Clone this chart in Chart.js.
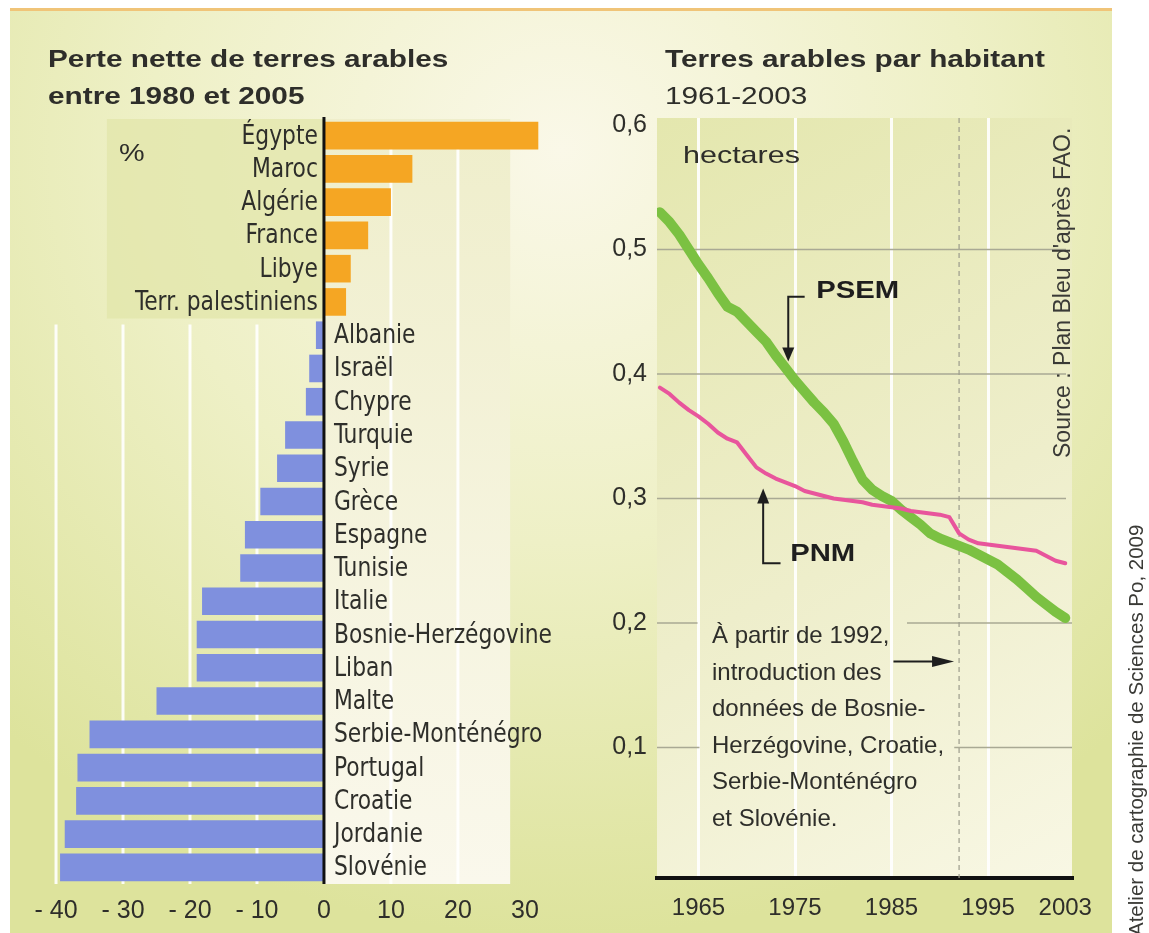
<!DOCTYPE html>
<html lang="fr">
<head>
<meta charset="UTF-8" />
<title>Terres arables</title>
<script src="https://cdn.jsdelivr.net/npm/chart.js"></script>
<style>
  html, body { margin: 0; padding: 0; background: #fff; }
  body {
    width: 1149px; height: 933px; position: relative; overflow: hidden;
    font-family: 'Liberation Sans', Arial, sans-serif; color: #2e2e2a;
  }
  .bg {
    position: absolute; left: 10px; top: 8px; width: 1102px; height: 925px;
    background: radial-gradient(ellipse 75% 85% at 50% 15%, #faf8e8 0%, #eef0c6 50%, #dde39c 100%);
    border-top: 3px solid #f0c478;
  }
  canvas { position: absolute; left: 0; top: 0; }
  .txt { position: absolute; white-space: nowrap; }
  .line { display: block; transform-origin: 0 0; }
  .title { font-size: 24px; line-height: 37px; }
  .title .line { transform: scaleX(1.24); }
  .bold { font-weight: bold; }
  .unit { font-size: 24px; line-height: 24px; transform-origin: 0 0; }
  .note { font-size: 24px; line-height: 36.5px; }
  .rot { position: absolute; white-space: nowrap; transform-origin: 0 0; color: #3a3a36; }
</style>
</head>
<body>
  <div class="bg"></div>
  <canvas id="leftChart" width="1149" height="933"></canvas>
  <canvas id="rightChart" width="1149" height="933"></canvas>

  <div class="txt title" style="left:48px; top:40px;">
    <span class="line bold">Perte nette de terres arables</span>
    <span class="line bold">entre 1980 et 2005</span>
  </div>
  <div class="txt title" style="left:665px; top:40px;">
    <span class="line bold">Terres arables par habitant</span>
    <span class="line">1961-2003</span>
  </div>
  <div class="txt unit" style="left:119px; top:141px; transform:scaleX(1.2);">%</div>
  <div class="txt unit" style="left:683px; top:143px; transform:scaleX(1.27);">hectares</div>

  <div class="txt note" style="left:712px; top:617px;">
    À partir de 1992,<br>introduction des<br>données de Bosnie-<br>Herzégovine, Croatie,<br>Serbie-Monténégro<br>et Slovénie.
  </div>

  <div class="rot" style="left:1049px; top:458px; font-size:23px; line-height:26px; transform:rotate(-90deg);">Source : Plan Bleu d'après FAO.</div>
  <div class="rot" style="left:1124px; top:936px; font-size:20.5px; line-height:24px; transform:rotate(-90deg);">Atelier de cartographie de Sciences Po, 2009</div>

  <script>
    // left chart: net loss of arable land 1980-2005, %
    const countries = ['Égypte', 'Maroc', 'Algérie', 'France', 'Libye', 'Terr. palestiniens',
      'Albanie', 'Israël', 'Chypre', 'Turquie', 'Syrie', 'Grèce', 'Espagne', 'Tunisie', 'Italie',
      'Bosnie-Herzégovine', 'Liban', 'Malte', 'Serbie-Monténégro', 'Portugal', 'Croatie',
      'Jordanie', 'Slovénie'];
    const lossPct = [32, 13.2, 10, 6.6, 4, 3.3,
      -1.2, -2.2, -2.7, -5.8, -7, -9.5, -11.8, -12.5, -18.2,
      -19, -19, -25, -35, -36.8, -37, -38.7, -39.4];
    const pctTicks = [-40, -30, -20, -10, 0, 10, 20, 30];

    // right chart: arable land per inhabitant, hectares
    const years = [1961, 1962, 1963, 1964, 1965, 1966, 1967, 1968, 1969, 1970,
      1971, 1972, 1973, 1974, 1975, 1976, 1977, 1978, 1979, 1980,
      1981, 1982, 1983, 1984, 1985, 1986, 1987, 1988, 1989, 1990,
      1991, 1992, 1993, 1994, 1995, 1996, 1997, 1998, 1999, 2000,
      2001, 2002, 2003];
    const psem = [0.530, 0.522, 0.512, 0.500, 0.488, 0.477, 0.465, 0.454, 0.450, 0.442,
      0.434, 0.426, 0.415, 0.405, 0.395, 0.386, 0.377, 0.369, 0.360, 0.346,
      0.330, 0.315, 0.307, 0.302, 0.298, 0.291, 0.285, 0.279, 0.272, 0.268,
      0.265, 0.262, 0.259, 0.255, 0.251, 0.247, 0.241, 0.235, 0.228, 0.221,
      0.215, 0.209, 0.204];
    const pnm = [0.389, 0.384, 0.377, 0.371, 0.366, 0.360, 0.353, 0.348, 0.345, 0.335,
      0.325, 0.320, 0.316, 0.313, 0.310, 0.306, 0.304, 0.302, 0.300, 0.299,
      0.298, 0.297, 0.295, 0.294, 0.293, 0.292, 0.290, 0.289, 0.288, 0.287,
      0.285, 0.272, 0.267, 0.264, 0.263, 0.262, 0.261, 0.260, 0.259, 0.258,
      0.254, 0.250, 0.248];
    const yearTicks = [1965, 1975, 1985, 1995, 2003];
    const haTicks = [0.1, 0.2, 0.3, 0.4, 0.5, 0.6];
    const bosniaYear = 1992;

    const FONT = '"Liberation Sans", Arial, sans-serif';
    const NARROW = '"Liberation Sans Narrow", "DejaVu Sans Condensed", "Liberation Sans", sans-serif';
    Chart.defaults.color = '#2e2e2a';
    Chart.defaults.font.family = FONT;

    const ORANGE = '#f5a623';
    const BLUE = '#7f90de';

    const leftDeco = {
      id: 'leftDeco',
      beforeDraw(chart) {
        const { ctx, chartArea: a, scales: { x, y } } = chart;
        const x0 = x.getPixelForValue(0);
        const splitY = (y.getPixelForValue(5) + y.getPixelForValue(6)) / 2;
        ctx.save();
        // label box behind the gains
        ctx.fillStyle = 'rgba(226,230,170,0.75)';
        ctx.fillRect(x.getPixelForValue(-32.4), a.top, x0 - x.getPixelForValue(-32.4), splitY - a.top);
        // light panel right of zero
        const g = ctx.createLinearGradient(0, a.top, 0, a.bottom);
        g.addColorStop(0, '#efeecb');
        g.addColorStop(1, '#faf8ec');
        ctx.fillStyle = g;
        ctx.fillRect(x0, a.top, x.getPixelForValue(27.8) - x0, a.bottom - a.top);
        ctx.restore();
      },
      beforeDatasetsDraw(chart) {
        const { ctx, chartArea: a, scales: { x, y } } = chart;
        const splitY = (y.getPixelForValue(5) + y.getPixelForValue(6)) / 2;
        ctx.save();
        ctx.strokeStyle = 'rgba(255,255,255,0.9)';
        ctx.lineWidth = 3;
        pctTicks.forEach(v => {
          if (v === 0 || v === 30) return;
          const px = x.getPixelForValue(v);
          ctx.beginPath();
          ctx.moveTo(px, v < 0 ? splitY + 6 : a.top + 30);
          ctx.lineTo(px, a.bottom);
          ctx.stroke();
        });
        ctx.restore();
      },
      afterDatasetsDraw(chart) {
        const { ctx, chartArea: a, scales: { x, y } } = chart;
        const x0 = x.getPixelForValue(0);
        ctx.save();
        ctx.strokeStyle = '#111';
        ctx.lineWidth = 3;
        ctx.beginPath();
        ctx.moveTo(x0, a.top - 2);
        ctx.lineTo(x0, a.bottom);
        ctx.stroke();
        // condensed labels, squeezed to the width seen in the print
        ctx.font = '27px ' + NARROW;
        const sx = 218 / ctx.measureText('Bosnie-Herzégovine').width;
        ctx.fillStyle = '#2e2e2a';
        ctx.textBaseline = 'middle';
        countries.forEach((c, i) => {
          const py = y.getPixelForValue(i) + 1;
          const pos = lossPct[i] > 0;
          ctx.save();
          ctx.translate(pos ? x0 - 6 : x0 + 10, py);
          ctx.scale(sx, 1);
          ctx.textAlign = pos ? 'right' : 'left';
          ctx.fillText(c, 0, 0);
          ctx.restore();
        });
        ctx.restore();
      }
    };

    new Chart(document.getElementById('leftChart'), {
      type: 'bar',
      data: {
        labels: countries,
        datasets: [{
          data: lossPct,
          backgroundColor: lossPct.map(v => v > 0 ? ORANGE : BLUE),
          borderWidth: 0,
          barPercentage: 0.83,
          categoryPercentage: 1
        }]
      },
      options: {
        indexAxis: 'y',
        responsive: false,
        animation: false,
        layout: { padding: { left: 50, right: 604, top: 119, bottom: 0 } },
        plugins: { legend: { display: false }, tooltip: { enabled: false } },
        scales: {
          x: {
            type: 'linear',
            min: -40.9,
            max: 33,
            afterBuildTicks: s => { s.ticks = pctTicks.map(v => ({ value: v })); },
            afterFit: s => { s.height = 49; },
            ticks: {
              font: { size: 25 },
              padding: 12,
              callback: v => v < 0 ? '- ' + (-v) : String(v)
            },
            grid: { display: false, drawTicks: false },
            border: { display: false }
          },
          y: { display: false }
        }
      },
      plugins: [leftDeco]
    });

    function arrowHead(ctx, tx, ty, dir, len, half) {
      ctx.beginPath();
      if (dir === 'down') { ctx.moveTo(tx, ty); ctx.lineTo(tx - half, ty - len); ctx.lineTo(tx + half, ty - len); }
      if (dir === 'up') { ctx.moveTo(tx, ty); ctx.lineTo(tx - half, ty + len); ctx.lineTo(tx + half, ty + len); }
      if (dir === 'right') { ctx.moveTo(tx, ty); ctx.lineTo(tx - len, ty - half); ctx.lineTo(tx - len, ty + half); }
      ctx.closePath();
      ctx.fill();
    }

    function boldLabel(ctx, text, px, py) {
      ctx.save();
      ctx.translate(px, py);
      ctx.scale(1.22, 1);
      ctx.font = 'bold 24px ' + FONT;
      ctx.textAlign = 'left';
      ctx.textBaseline = 'middle';
      ctx.fillText(text, 0, 0);
      ctx.restore();
    }

    const rightDeco = {
      id: 'rightDeco',
      beforeDraw(chart) {
        const { ctx, chartArea: a } = chart;
        const g = ctx.createLinearGradient(a.left, a.top, a.right, a.bottom);
        g.addColorStop(0, '#e4e7ae');
        g.addColorStop(0.55, '#eeeecb');
        g.addColorStop(1, '#f8f7e4');
        ctx.save();
        ctx.fillStyle = g;
        ctx.fillRect(a.left, a.top, a.right - a.left, a.bottom - a.top);
        ctx.restore();
      },
      beforeDatasetsDraw(chart) {
        const { ctx, chartArea: a, scales: { x, y } } = chart;
        const gaps = { '0.2': [1964.9, 1986.6], '0.1': [1965.1, 1991.5] };
        ctx.save();
        ctx.strokeStyle = '#a9a994';
        ctx.lineWidth = 1.5;
        haTicks.forEach(v => {
          if (v === 0.6) return;
          const py = y.getPixelForValue(v);
          const gap = gaps[String(v)];
          ctx.beginPath();
          if (gap) {
            ctx.moveTo(a.left, py); ctx.lineTo(x.getPixelForValue(gap[0]), py);
            ctx.moveTo(x.getPixelForValue(gap[1]), py); ctx.lineTo(a.right, py);
          } else {
            ctx.moveTo(a.left, py); ctx.lineTo(a.right - 6, py);
          }
          ctx.stroke();
        });
        // 1992 dashed marker
        const bx = x.getPixelForValue(bosniaYear);
        ctx.strokeStyle = '#9c9c8c';
        ctx.lineWidth = 1.2;
        ctx.setLineDash([5, 4]);
        ctx.beginPath();
        ctx.moveTo(bx, a.top);
        ctx.lineTo(bx, a.bottom);
        ctx.stroke();
        ctx.restore();
      },
      afterDatasetsDraw(chart) {
        const { ctx, scales: { x, y } } = chart;
        ctx.save();
        ctx.strokeStyle = '#1e1e1e';
        ctx.fillStyle = '#1e1e1e';
        ctx.lineWidth = 2;

        // PSEM bracket
        let vx = x.getPixelForValue(1974.3);
        let top = y.getPixelForValue(0.462);
        let tip = y.getPixelForValue(0.41);
        ctx.beginPath();
        ctx.moveTo(x.getPixelForValue(1976.0), top);
        ctx.lineTo(vx, top);
        ctx.lineTo(vx, tip - 10);
        ctx.stroke();
        arrowHead(ctx, vx, tip, 'down', 14, 6);
        boldLabel(ctx, 'PSEM', x.getPixelForValue(1977.2), y.getPixelForValue(0.466));

        // PNM bracket
        vx = x.getPixelForValue(1971.7);
        tip = y.getPixelForValue(0.308);
        const bot = y.getPixelForValue(0.248);
        ctx.beginPath();
        ctx.moveTo(vx, tip + 10);
        ctx.lineTo(vx, bot);
        ctx.lineTo(x.getPixelForValue(1973.5), bot);
        ctx.stroke();
        arrowHead(ctx, vx, tip, 'up', 15, 6);
        boldLabel(ctx, 'PNM', x.getPixelForValue(1974.5), y.getPixelForValue(0.255));

        // arrow towards 1992
        const ay = y.getPixelForValue(0.169);
        const ax = x.getPixelForValue(bosniaYear) - 5;
        ctx.beginPath();
        ctx.moveTo(x.getPixelForValue(1985.2), ay);
        ctx.lineTo(ax - 18, ay);
        ctx.stroke();
        arrowHead(ctx, ax, ay, 'right', 22, 5.5);
        ctx.restore();
      }
    };

    new Chart(document.getElementById('rightChart'), {
      type: 'line',
      data: {
        datasets: [
          {
            label: 'PSEM',
            data: years.map((yr, i) => ({ x: yr, y: psem[i] })),
            borderColor: '#7bc142',
            borderWidth: 10,
            borderCapStyle: 'round',
            borderJoinStyle: 'round',
            pointRadius: 0,
            tension: 0,
            order: 1
          },
          {
            label: 'PNM',
            data: years.map((yr, i) => ({ x: yr, y: pnm[i] })),
            borderColor: '#e8559c',
            borderWidth: 4,
            borderCapStyle: 'round',
            borderJoinStyle: 'round',
            pointRadius: 0,
            tension: 0,
            order: 0
          }
        ]
      },
      options: {
        responsive: false,
        animation: false,
        layout: { padding: { left: 590, right: 77, top: 118, bottom: 0 } },
        plugins: { legend: { display: false }, tooltip: { enabled: false } },
        scales: {
          x: {
            type: 'linear',
            min: 1960.7,
            max: 2003.7,
            afterBuildTicks: s => { s.ticks = yearTicks.map(v => ({ value: v })); },
            afterFit: s => { s.height = 55; },
            ticks: { font: { size: 24 }, padding: 16, callback: v => String(v) },
            grid: {
              color: c => c.tick && c.tick.value === 2003 ? 'rgba(0,0,0,0)' : 'rgba(255,255,255,0.9)',
              lineWidth: 3,
              drawTicks: false
            },
            border: { display: true, color: '#111', width: 4 }
          },
          y: {
            min: -0.0048,
            max: 0.6056,
            afterBuildTicks: s => { s.ticks = haTicks.map(v => ({ value: v })); },
            afterFit: s => { s.width = 67; },
            ticks: { font: { size: 25 }, padding: 10, callback: v => v.toFixed(1).replace('.', ',') },
            grid: { display: false, drawTicks: false },
            border: { display: false }
          }
        }
      },
      plugins: [rightDeco]
    });
  </script>
</body>
</html>
